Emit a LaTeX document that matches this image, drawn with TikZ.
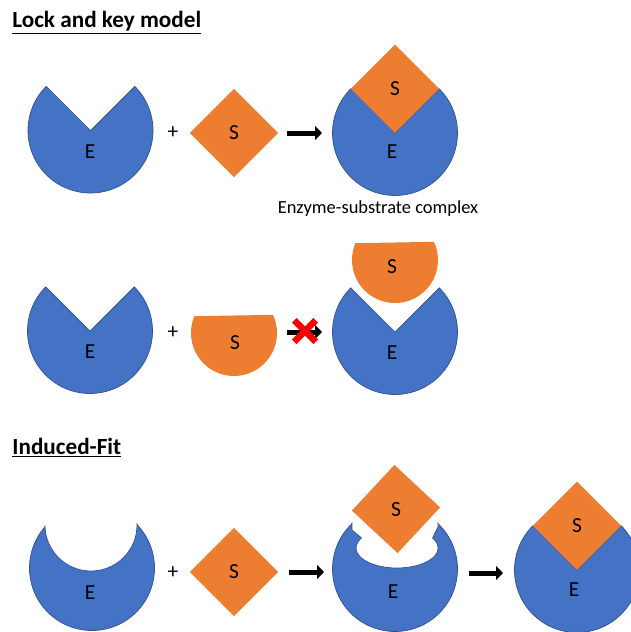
\documentclass[tikz,border=0pt]{standalone}
\usepackage{fontspec}
\setmainfont{Carlito}
\usetikzlibrary{arrows.meta,shapes.geometric,shapes.misc}
\definecolor{enzblue}{HTML}{4472C4}
\definecolor{enzline}{HTML}{2F528F}
\definecolor{suborange}{HTML}{ED7D31}
\tikzset{
	enz/.style={fill=enzblue, draw=enzline, line width=0.4pt},
	subs/.style={fill=suborange},
	subdia/.style={shape=diamond, fill=suborange, inner sep=0pt, minimum width=1.77cm, minimum height=1.77cm, font=\fontsize{12.2}{14}\selectfont},
	lbl/.style={font=\fontsize{12.2}{14}\selectfont},
	headline/.style={anchor=base west, inner sep=0pt, font=\fontsize{13.2}{15}\selectfont\bfseries},
	react/.style={line width=0.1cm, -{Triangle[length=0.14cm,width=0.28cm]}},
	notch/.style={fill=white, draw=enzline, line width=0.4pt},
}

\begin{document}
\begin{tikzpicture}
			%%%%% START %%%%%
			\useasboundingbox (0, 0) rectangle (12.62, -12.64);
			
			\node[headline] (t1) at (0.24, -0.54) {\underline{Lock and key model}};
			
			%% row 1: lock and key
			\draw[enz] (1.81, -2.61) -- ++(45:1.25) arc (45:-225:1.25) -- cycle;
			\node[lbl] (e1) at (1.8, -3.04) {E};
			\node[lbl] (p1) at (3.46, -2.66) {+};
			\node[subdia] (s1) at (4.68, -2.66) {S};
			
			\coordinate (a1) at (5.74, -2.66);
			\coordinate (b1) at (6.44, -2.66);
			\draw[react] (a1) -- (b1);
			
			\draw[enz] (7.9, -2.66) -- ++(45:1.25) arc (45:-225:1.25) -- cycle;
			\node[subdia] (s2) at (7.9, -1.776) {S};
			\node[lbl] (e2) at (7.84, -3.04) {E};
			\node[font=\fontsize{10.5}{12}\selectfont] (cx) at (7.56, -4.18) {Enzyme-substrate complex};
			
			%% row 2: wrong shape
			\draw[enz] (1.8, -6.62) -- ++(45:1.25) arc (45:-225:1.25) -- cycle;
			\node[lbl] (e3) at (1.8, -7.04) {E};
			\node[lbl] (p2) at (3.46, -6.66) {+};
			\fill[subs] (4.68, -6.66) ++(157:0.86) arc (157:385:0.86) -- cycle;
			\node[lbl] (s3) at (4.7, -6.86) {S};
			
			\coordinate (a2) at (5.74, -6.64);
			\coordinate (b2) at (6.44, -6.64);
			\draw[react] (a2) -- (b2);
			\node[cross out, draw=red, line width=0.13cm, minimum size=0.3cm, inner sep=0pt] (no) at (6.1, -6.62) {};
			
			\draw[enz] (7.9, -6.64) -- ++(45:1.25) arc (45:-225:1.25) -- cycle;
			\node[lbl] (e4) at (7.84, -7.06) {E};
			\fill[subs] (7.9, -5.2) ++(157:0.86) arc (157:385:0.86) -- cycle;
			\node[lbl] (s4) at (7.84, -5.34) {S};
			
			%% row 3: induced fit
			\node[headline] (t2) at (0.24, -9.08) {\underline{Induced-Fit}};
			
			\draw[enz] (1.84, -11.36) circle (1.25);
			\begin{scope}
				\clip (1.84, -11.36) circle (1.27);
				\draw[notch] (1.82, -10.5) circle (0.92);
			\end{scope}
			\node[lbl] (e5) at (1.8, -11.86) {E};
			\node[lbl] (p3) at (3.46, -11.46) {+};
			\node[subdia] (s5) at (4.68, -11.44) {S};
			
			\coordinate (a3) at (5.78, -11.44);
			\coordinate (b3) at (6.48, -11.44);
			\draw[react] (a3) -- (b3);
			
			\draw[enz] (7.9, -11.38) circle (1.25);
			\begin{scope}
				\clip (7.9, -11.38) circle (1.27);
				\draw[notch] (7.04, -9.5) -- (7.04, -10.6) -- (7.23, -10.76) arc[start angle=150, end angle=390, x radius=0.82, y radius=0.4] -- (8.76, -10.54) -- (8.76, -9.5) -- cycle;
			\end{scope}
			\node[lbl] (e6) at (7.86, -11.84) {E};
			\node[subdia, rotate=2] (s6) at (7.92, -10.18) {S};
			
			\coordinate (a4) at (9.38, -11.46);
			\coordinate (b4) at (10.06, -11.46);
			\draw[react] (a4) -- (b4);
			
			\draw[enz] (11.54, -11.4) -- ++(45:1.25) arc (45:-225:1.25) -- cycle;
			\node[subdia] (s7) at (11.54, -10.516) {S};
			\node[lbl] (e7) at (11.48, -11.8) {E};
			
			%%%%% END %%%%%
\end{tikzpicture}
\end{document}
